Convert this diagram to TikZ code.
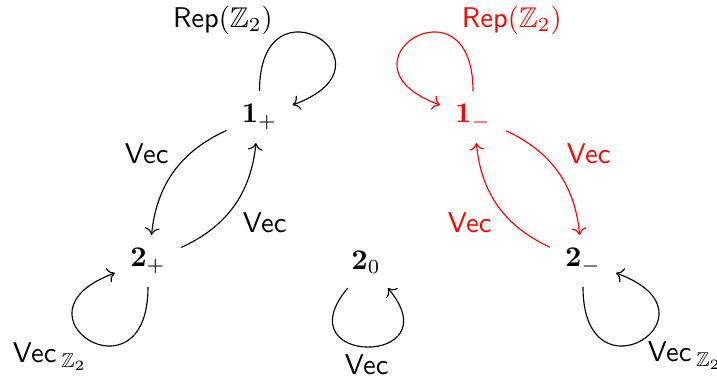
\documentclass[tikz,border=0pt]{standalone}
\usepackage{amssymb}
\usetikzlibrary{arrows.meta}
\begin{document}
\begin{tikzpicture}[x=0.351pt,y=-0.351pt,
  obj/.style={shape=rectangle,inner sep=0pt,outer sep=0pt,minimum width=23.2pt,minimum height=18.3pt},
  lbl/.style={anchor=base west,inner sep=0pt,outer sep=0pt},
  arr/.style={->,line width=0.4pt}]
\useasboundingbox (0,0) rectangle (717,383);
\node[obj] (1p) at (259.5,117) {$\mathbf{1}_+$};
\node[obj,text=red] (1m) at (473,117) {$\mathbf{1}_-$};
\node[obj] (2p) at (148,261) {$\mathbf{2}_+$};
\node[obj] (2z) at (366,262) {$\mathbf{2}_0$};
\node[obj] (2m) at (583,261) {$\mathbf{2}_-$};
% loops
\draw[arr] (1p.north) to[out=90,in=20,distance=42pt] (1p.20);
\draw[arr,red] (1m.north) to[out=90,in=160,distance=42pt] (1m.160);
\draw[arr] (2p.south) to[out=270,in=200,distance=42pt] (2p.200);
\draw[arr] (2m.south) to[out=270,in=-20,distance=42pt] (2m.-20);
\draw[arr] (2z.-125) to[out=230,in=-50,distance=36pt] (2z.-50);
% curved edges
\draw[arr] (1p) to[bend right=30] (2p);
\draw[arr] (2p) to[bend right=30] (1p);
\draw[arr,red] (1m) to[bend left=30] (2m);
\draw[arr,red] (2m) to[bend left=30] (1m);
% labels
\node[lbl] (lrp) at (173,27) {\textsf{Rep}$(\mathbb{Z}_2)$};
\node[lbl,text=red] (lrm) at (462,27) {\textsf{Rep}$(\mathbb{Z}_2)$};
\node[lbl] (lv1) at (125,163) {\textsf{Vec}};
\node[lbl] (lv2) at (243,233) {\textsf{Vec}};
\node[lbl,text=red] (lv3) at (567,163) {\textsf{Vec}};
\node[lbl,text=red] (lv4) at (448,233) {\textsf{Vec}};
\node[lbl] (lv5) at (345,375) {\textsf{Vec}};
\node[lbl] (lz1) at (13,363) {$\mathsf{Vec}\,{}_{\mathbb{Z}_2}$};
\node[lbl] (lz2) at (648,362) {$\mathsf{Vec}\,{}_{\mathbb{Z}_2}$};
\end{tikzpicture}
\end{document}
